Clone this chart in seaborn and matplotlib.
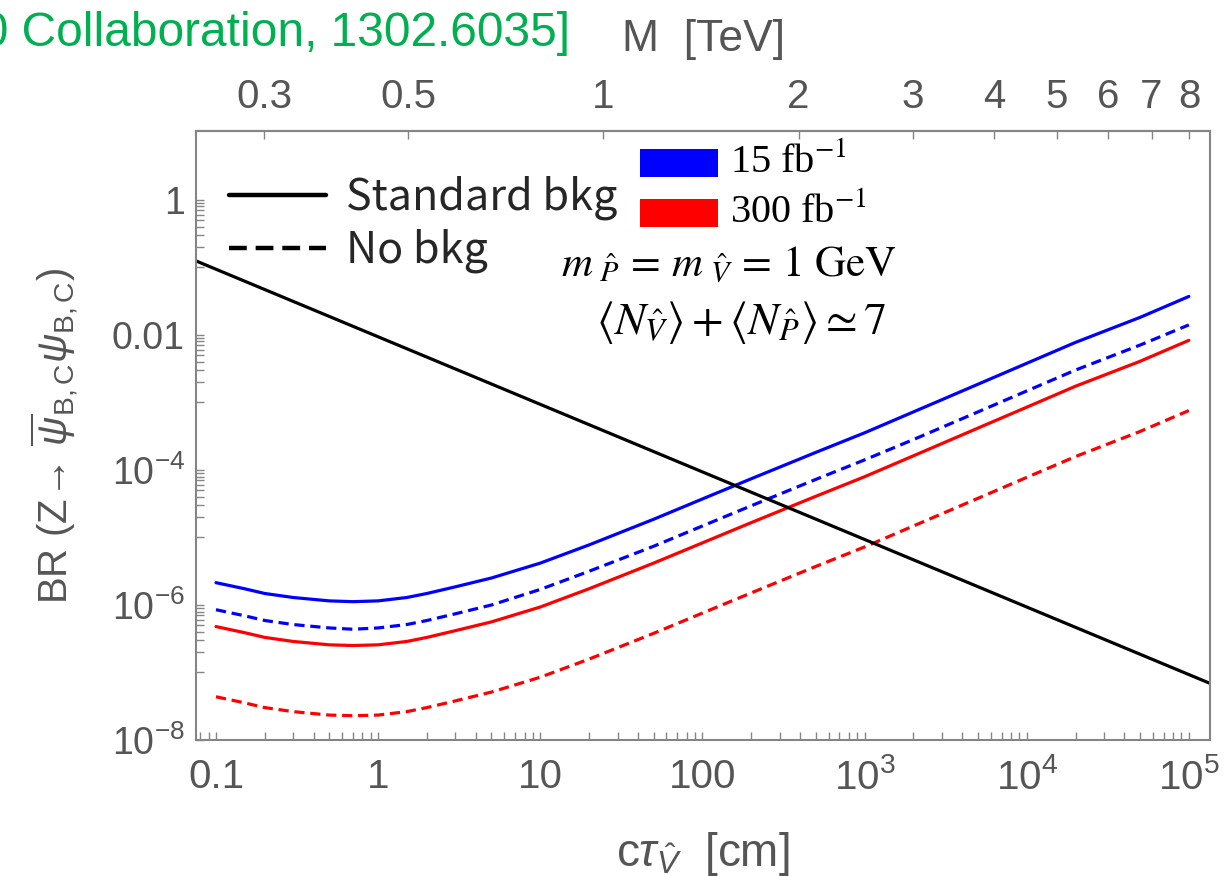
import matplotlib
matplotlib.use("Agg")
import matplotlib.pyplot as plt
import numpy as np
import pandas as pd
import seaborn as sns
from matplotlib.ticker import FixedLocator, FixedFormatter, NullLocator, NullFormatter
from matplotlib.patches import Rectangle
from matplotlib.lines import Line2D

# ---- data -------------------------------------------------------------
ctau = [0.1, 0.15, 0.2, 0.3, 0.5, 0.7, 1, 1.5, 2, 3, 5, 10, 20, 50, 100,
        200, 500, 1e3, 2e3, 5e3, 1e4, 2e4, 5e4, 1e5]

br_15_std = [2.14e-6, 1.74e-6, 1.48e-6, 1.29e-6, 1.15e-6, 1.12e-6, 1.15e-6,
             1.29e-6, 1.48e-6, 1.86e-6, 2.51e-6, 4.17e-6, 7.76e-6, 1.86e-5,
             3.72e-5, 7.41e-5, 1.82e-4, 3.55e-4, 7.24e-4, 1.86e-3, 3.80e-3,
             7.76e-3, 1.82e-2, 3.72e-2]
br_15_nobkg = [8.51e-7, 6.92e-7, 5.89e-7, 5.13e-7, 4.57e-7, 4.37e-7, 4.57e-7,
               5.13e-7, 5.89e-7, 7.41e-7, 1.00e-6, 1.70e-6, 3.16e-6, 7.41e-6,
               1.48e-5, 2.95e-5, 7.24e-5, 1.41e-4, 2.82e-4, 7.24e-4, 1.48e-3,
               3.02e-3, 7.08e-3, 1.41e-2]
br_300_std = [4.79e-7, 3.89e-7, 3.31e-7, 2.88e-7, 2.57e-7, 2.51e-7, 2.57e-7,
              2.88e-7, 3.31e-7, 4.17e-7, 5.62e-7, 9.33e-7, 1.74e-6, 4.17e-6,
              8.32e-6, 1.66e-5, 4.07e-5, 7.94e-5, 1.62e-4, 4.17e-4, 8.51e-4,
              1.74e-3, 4.07e-3, 8.32e-3]
br_300_nobkg = [4.37e-8, 3.55e-8, 3.02e-8, 2.63e-8, 2.34e-8, 2.29e-8, 2.34e-8,
                2.63e-8, 3.02e-8, 3.80e-8, 5.13e-8, 8.51e-8, 1.58e-7, 3.80e-7,
                7.59e-7, 1.51e-6, 3.72e-6, 7.24e-6, 1.48e-5, 3.80e-5, 7.76e-5,
                1.58e-4, 3.72e-4, 7.59e-4]

bkg_ctau = [0.0753, 1.35e5]
bkg_br = [0.125, 6.9e-8]

x_major = [0.1, 1, 10, 100, 1e3, 1e4, 1e5]
x_labels = ["0.1", "1", "10", "100", r"$10^{3}$", r"$10^{4}$", r"$10^{5}$"]
y_major = [1e-8, 1e-6, 1e-4, 1e-2, 1]
y_labels = [r"$10^{-8}$", r"$10^{-6}$", r"$10^{-4}$", "0.01", "1"]
m_ticks = [0.3, 0.5, 1, 2, 3, 4, 5, 6, 7, 8]
m_labels = ["0.3", "0.5", "1", "2", "3", "4", "5", "6", "7", "8"]

lumi_labels = [r"15 fb$^{-1}$", r"300 fb$^{-1}$"]
lumi_colors = ["#0000ff", "#ff0000"]

# cτ scales as M^4; cτ at M = 1 TeV in cm
CTAU_AT_1TEV = 24.5

# ---- style ------------------------------------------------------------
sns.set_theme(style="white")
plt.rcParams["font.family"] = ["Liberation Sans", "DejaVu Sans"]
plt.rcParams["mathtext.fontset"] = "custom"
plt.rcParams["mathtext.rm"] = "Liberation Sans"
plt.rcParams["mathtext.it"] = "Liberation Sans:italic"
plt.rcParams["mathtext.bf"] = "Liberation Sans:bold"

FRAME = "#858585"
TXT = "#555555"
XTICK_FS = 29
YTICK_FS = 27

fig = plt.figure(figsize=(12.29, 8.76), dpi=100)
ax = fig.add_axes([196 / 1229, 136 / 876, 1014 / 1229, 609 / 876])

frames = []
for vals, col, style in [(br_15_std, lumi_colors[0], "std"),
                         (br_15_nobkg, lumi_colors[0], "none"),
                         (br_300_std, lumi_colors[1], "std"),
                         (br_300_nobkg, lumi_colors[1], "none")]:
    frames.append(pd.DataFrame({"ctau": ctau, "br": vals,
                                "color": col, "bkg": style}))
curves = pd.concat(frames, ignore_index=True)

for (col, style), grp in curves.groupby(["color", "bkg"], sort=False):
    sns.lineplot(data=grp, x="ctau", y="br", ax=ax, color=col, lw=2.3,
                 linestyle="-" if style == "std" else (0, (3.2, 1.8)),
                 legend=False, estimator=None, sort=True)

bkg = pd.DataFrame({"ctau": bkg_ctau, "br": bkg_br})
sns.lineplot(data=bkg, x="ctau", y="br", ax=ax, color="black", lw=2.3,
             legend=False, estimator=None)

ax.set_xscale("log")
ax.set_yscale("log")
ax.set_xlim(0.0753, 1.35e5)
ax.set_ylim(1e-8, 10.5)

# ticks
ax.xaxis.set_major_locator(FixedLocator(x_major))
ax.xaxis.set_major_formatter(FixedFormatter(x_labels))
x_minor = [m * 10.0 ** k for k in range(-2, 5) for m in range(2, 10)]
ax.xaxis.set_minor_locator(FixedLocator(x_minor))
ax.xaxis.set_minor_formatter(NullFormatter())

ax.yaxis.set_major_locator(FixedLocator(y_major))
ax.yaxis.set_major_formatter(FixedFormatter(y_labels))
y_minor = [m * 10.0 ** (e - 1) for e in (-6, -4, -2, 0) for m in range(1, 10)]
ax.yaxis.set_minor_locator(FixedLocator(y_minor))
ax.yaxis.set_minor_formatter(NullFormatter())

ax.tick_params(which="both", direction="in", color=FRAME, width=1.0,
               length=6, labelcolor=TXT,
               top=False, right=False, bottom=True, left=True)
ax.tick_params(axis="x", which="major", pad=13, labelsize=XTICK_FS)
ax.tick_params(axis="y", which="major", pad=8, labelsize=YTICK_FS)
for sp in ax.spines.values():
    sp.set_color(FRAME)
    sp.set_linewidth(1.5)
    sp.set_visible(True)

# top mass axis
def to_mass(c):
    c = np.asarray(c, dtype=float)
    return np.power(np.clip(c, 1e-12, None) / CTAU_AT_1TEV, 0.25)

def to_ctau(m):
    m = np.asarray(m, dtype=float)
    return CTAU_AT_1TEV * np.power(m, 4)

sec = ax.secondary_xaxis("top", functions=(to_mass, to_ctau))
sec.xaxis.set_major_locator(FixedLocator(m_ticks))
sec.xaxis.set_major_formatter(FixedFormatter(m_labels))
sec.xaxis.set_minor_locator(NullLocator())
sec.tick_params(direction="in", color=FRAME, width=1.0, length=6,
                labelsize=XTICK_FS, labelcolor=TXT, pad=11)
sec.spines["top"].set_color(FRAME)
sec.spines["top"].set_linewidth(1.5)
sec.set_xlabel("M  [TeV]", fontsize=32, color=TXT, labelpad=19)

# axis labels
ax.set_xlabel(r"c$\tau_{\hat{V}}$  [cm]", fontsize=33, color=TXT,
              labelpad=24)
ax.set_ylabel(r"BR $(\mathrm{Z}\!\rightarrow\,\overline{\psi}_{\mathrm{B,C}}"
              r"\psi_{\mathrm{B,C}})$", fontsize=29, color=TXT,
              labelpad=22)

# line-style legend
style_handles = [Line2D([], [], color="black", lw=3.2),
                 Line2D([], [], color="black", lw=3.2, linestyle=(0, (4.0, 2.0)))]
leg = ax.legend(style_handles, ["Standard bkg", "No bkg"],
                loc="upper left", bbox_to_anchor=(0.016, 0.955),
                frameon=False, handlelength=2.25, handletextpad=0.45,
                labelspacing=0.2, borderaxespad=0.0,
                prop={"family": ["Noto Sans CJK SC", "DejaVu Sans"],
                      "size": 31})

# luminosity colour key
for i, (lab, col) in enumerate(zip(lumi_labels, lumi_colors)):
    y0 = 0.925 - i * 0.082
    ax.add_patch(Rectangle((0.438, y0), 0.077, 0.045, transform=ax.transAxes,
                           facecolor=col, edgecolor="none", clip_on=False))
    ax.text(0.527, y0 + 0.024, lab, transform=ax.transAxes, fontsize=29,
            family=["Liberation Serif", "DejaVu Serif"],
            math_fontfamily="stix", va="center", ha="left", color="black")

ax.text(0.525, 0.78,
        r"$m_{\ \hat{P}}\,=\,m_{\ \hat{V}}\,=\,1\ \mathrm{GeV}$",
        transform=ax.transAxes, fontsize=31, math_fontfamily="stix",
        ha="center", va="center", color="black")
ax.text(0.537, 0.686,
        r"$\langle N_{\hat{V}}\rangle + \langle N_{\hat{P}}\rangle \simeq 7$",
        transform=ax.transAxes, fontsize=33, math_fontfamily="stix",
        ha="center", va="center", color="black")

# citation, running off the left edge
fig.text(570 / 1229, 1 - 33 / 876, "[D0 Collaboration, 1302.6035]",
         fontsize=34.5, color="#00b050", ha="right", va="center")

fig.savefig("out.png", dpi=100)
